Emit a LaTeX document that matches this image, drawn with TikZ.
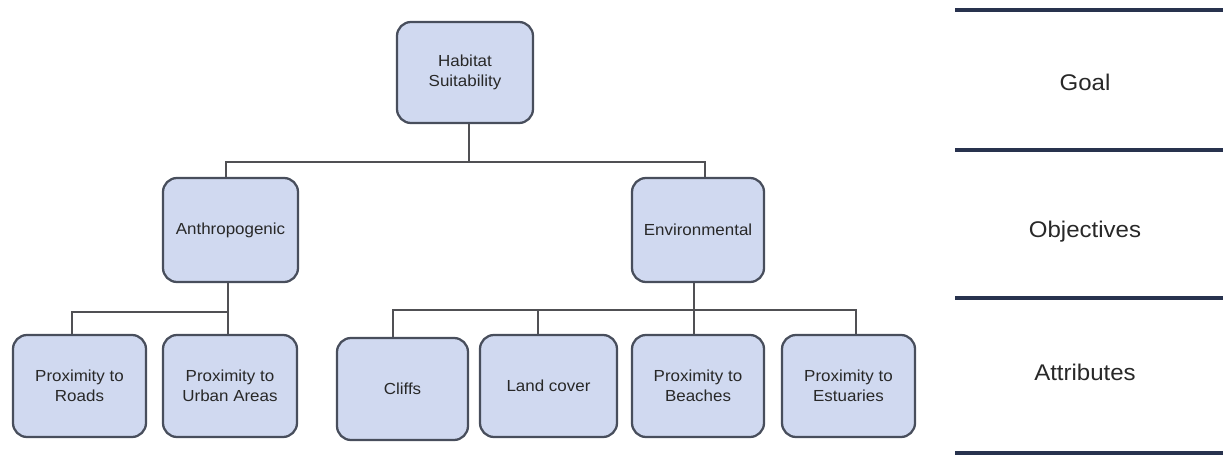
\documentclass[tikz,border=0pt]{standalone}
\usepackage{fontspec}
\setmainfont{Liberation Sans}[FakeStretch=1.06]
\definecolor{boxfill}{RGB}{208,217,240}
\definecolor{boxline}{RGB}{72,78,92}
\definecolor{connline}{RGB}{80,80,84}
\definecolor{barline}{RGB}{40,50,78}
\definecolor{txt}{RGB}{40,40,40}
\tikzset{
  bx/.style args={#1/#2}{draw=boxline, line width=1.7pt, fill=boxfill,
    rounded corners=10.5pt, inner sep=0pt, align=center, text=txt,
    minimum width=#1*0.75pt, minimum height=#2*0.75pt,
    font=\fontsize{12}{15}\selectfont},
  conn/.style={draw=connline, line width=2pt},
  bar/.style={draw=barline, line width=3.4pt},
  lvl/.style={text=txt, font=\fontsize{17}{20}\selectfont}
}
\begin{document}
\begin{tikzpicture}[x=0.75pt,y=-0.75pt]
\useasboundingbox (0,0) rectangle (1223,456);
% nodes
\node[bx=136/101] (hab) at (465,72.5) {Habitat\\Suitability};
\node[bx=135/104] (anthro) at (230.5,230) {Anthropogenic};
\node[bx=132/104] (env) at (698,230) {Environmental};
\node[bx=133/102] (roads) at (79.5,386) {Proximity to\\Roads};
\node[bx=134/102] (urban) at (230,386) {Proximity to\\Urban Areas};
\node[bx=131/102] (cliffs) at (402.5,389) {Cliffs};
\node[bx=137/102] (land) at (548.5,386) {Land cover};
\node[bx=132/102] (beaches) at (698,386) {Proximity to\\Beaches};
\node[bx=133/102] (estuaries) at (848.5,386) {Proximity to\\Estuaries};
% junction coordinates
\coordinate (jh) at (469,162);
\coordinate (ta) at (226,162);
\coordinate (te) at (705,162);
\coordinate (aj) at (228,312);
\coordinate (ar) at (72,312);
\coordinate (ej) at (694,310);
\coordinate (e1) at (393,310);
\coordinate (e2) at (538,310);
\coordinate (e4) at (856,310);
% connectors
\draw[conn] (hab.south -| jh) -- (jh);
\draw[conn] (anthro.north -| ta) -- (ta) -- (te) -- (env.north -| te);
\draw[conn] (anthro.south -| aj) -- (aj) -- (urban.north -| aj);
\draw[conn] (roads.north -| ar) -- (ar) -- (aj);
\draw[conn] (env.south -| ej) -- (ej) -- (beaches.north -| ej);
\draw[conn] (cliffs.north -| e1) -- (e1) -- (e4) -- (estuaries.north -| e4);
\draw[conn] (land.north -| e2) -- (e2);
% level bars
\coordinate (b0l) at (955,10);  \coordinate (b0r) at (1223,10);
\coordinate (b1l) at (955,150); \coordinate (b1r) at (1223,150);
\coordinate (b2l) at (955,298); \coordinate (b2r) at (1223,298);
\coordinate (b3l) at (955,453); \coordinate (b3r) at (1223,453);
\draw[bar] (b0l) -- (b0r);
\draw[bar] (b1l) -- (b1r);
\draw[bar] (b2l) -- (b2r);
\draw[bar] (b3l) -- (b3r);
\node[lvl] (goal) at (1085,82) {Goal};
\node[lvl] (obj) at (1085,232) {Objectives};
\node[lvl] (att) at (1085,372) {Attributes};
\end{tikzpicture}
\end{document}
